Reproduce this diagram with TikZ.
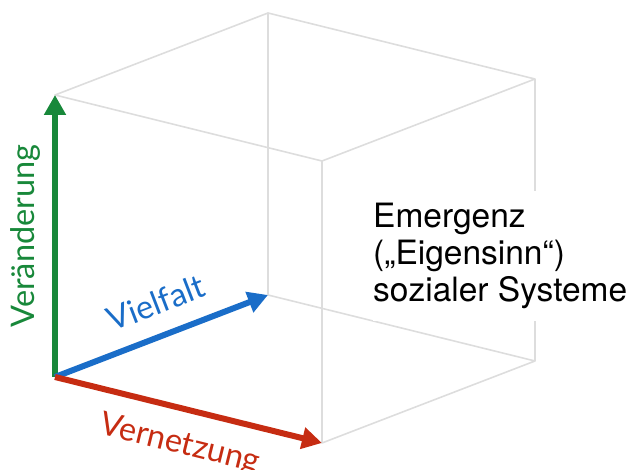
\documentclass[tikz,border=0pt]{standalone}
\usepackage{fontspec}
\setmainfont{TeX Gyre Heros}
\newfontfamily\lato{Lato}
\usetikzlibrary{arrows.meta,calc}
\definecolor{gruen}{RGB}{24,136,58}
\definecolor{blau}{RGB}{26,109,200}
\definecolor{rot}{RGB}{198,44,18}
\definecolor{kante}{RGB}{221,221,221}
\begin{document}
\begin{tikzpicture}[x=1pt,y=-1pt,
  kanten/.style={draw=kante, line width=1.6pt, line join=round},
  achse/.style={line width=6pt, -{Triangle[length=20pt,width=21pt]}},
  titel/.style={font=\lato\fontsize{32.5}{34}\selectfont, sloped, inner xsep=0pt}]
\useasboundingbox (0,0) rectangle (635,470);
\def\hx{267}\def\hy{66}%Vernetzung
\def\vx{213}\def\vy{-82}%Vielfalt
\def\h{282}%Hoehe
\coordinate (O) at (55,377);%Ursprung
\coordinate (A) at ($(O)+(0,-\h)$);
\coordinate (X) at ($(O)+(\hx,\hy)$);
\coordinate (Y) at ($(O)+(\vx,\vy)$);
\coordinate (XY) at ($(X)+(\vx,\vy)$);
\coordinate (AX) at ($(A)+(\hx,\hy)$);
\coordinate (AY) at ($(A)+(\vx,\vy)$);
\coordinate (AXY) at ($(AX)+(\vx,\vy)$);
%Wuerfel
\draw[kanten] (A) -- (AX) -- (AXY) -- (AY) -- cycle;
\draw[kanten] (AX) -- (X) -- (XY) -- (Y) -- (AY);
\draw[kanten] (AXY) -- (XY);
%Text
\node[fill=white, align=left, anchor=west, inner xsep=0pt, inner ysep=12pt,
  font=\fontsize{33.5}{37}\selectfont] (emergenz) at (373,256)
  {Emergenz\\(„Eigensinn“)\\sozialer Systeme};
%Achsen
\draw[achse, gruen] (O) -- node[titel, above, midway, inner ysep=12pt, text=gruen]{Veränderung} (A);
\draw[achse, blau] (O) -- node[titel, above, pos=0.53, inner ysep=18pt, text=blau]{Vielfalt} (Y);
\draw[achse, rot] (O) -- node[titel, below, pos=0.5, inner ysep=18pt, text=rot]{Vernetzung} (X);
\end{tikzpicture}
\end{document}
